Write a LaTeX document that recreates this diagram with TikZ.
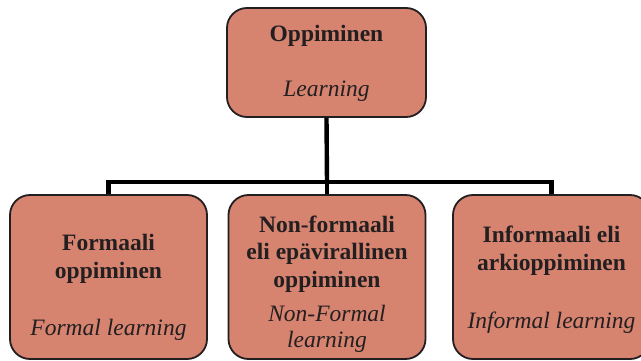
\documentclass[tikz,border=0pt]{standalone}
\usepackage{fontspec}
\setmainfont{Liberation Serif}
\definecolor{boxfill}{RGB}{214,131,112}
\definecolor{boxline}{RGB}{35,31,32}

\begin{document}
\begin{tikzpicture}[x=1pt,y=-1pt,
    box/.style={rectangle, rounded corners=20pt, draw=boxline, line width=1.8pt, fill=boxfill, minimum width=197pt, minimum height=164pt, inner sep=0pt},
    fi/.style={anchor=base, inner sep=0pt, align=center, text=boxline, font=\fontsize{23.5}{27.5}\selectfont\bfseries},
    en/.style={anchor=base, inner sep=0pt, align=center, text=boxline, font=\fontsize{23.5}{25.5}\selectfont\itshape},
    conn/.style={line width=4.4pt, draw=black}]

        \useasboundingbox (0,0) rectangle (641,361);

        % boxes
        \node[box, minimum width=199pt, minimum height=109pt] (top) at (326.5,62.5) {};
        \node[box] (formal) at (108.5,277) {};
        \node[box] (nonformal) at (327,277) {};
        \node[box] (informal) at (551.5,277) {};

        % texts (base = last line)
        \node[fi] (topfi) at (326.5,42) {Oppiminen};
        \node[en] (topen) at (326.5,97) {Learning};
        \node[fi] (formalfi) at (108.5,278) {Formaali\\oppiminen};
        \node[en] (formalen) at (108.5,335) {Formal learning};
        \node[fi] (nonformalfi) at (327,287) {Non-formaali\\eli epävirallinen\\oppiminen};
        \node[en] (nonformalen) at (327,347) {Non-Formal\\learning};
        \node[fi] (informalfi) at (551.5,270) {Informaali eli\\arkioppiminen};
        \node[en] (informalen) at (551.5,328) {Informal learning};

        % connectors
        \coordinate (bar) at (327,182);
        \draw[conn] (top.south) -- (bar);
        \draw[conn] (formal.north) |- (bar) -| (informal.north);
        \draw[conn] (nonformal.north) -- (nonformal.north |- bar);
\end{tikzpicture}
\end{document}
